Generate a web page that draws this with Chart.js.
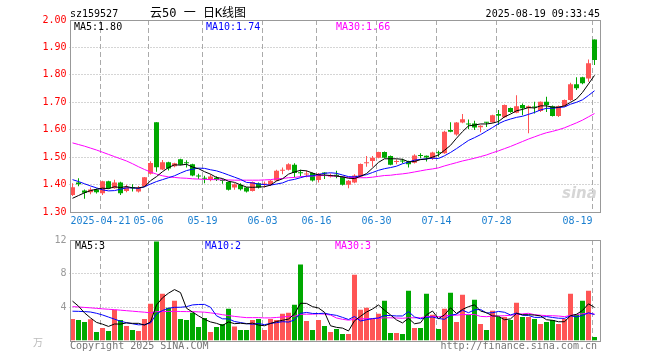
<!DOCTYPE html>
<html>
<head>
<meta charset="utf-8">
<title>sz159527 日K线图</title>
<script src="https://cdn.jsdelivr.net/npm/chart.js@4.4.1/dist/chart.umd.min.js"></script>
<style>
  body { margin: 0; background: #fff; }
  #wrap { position: relative; width: 660px; height: 360px; overflow: hidden;
          font-family: 'DejaVu Sans Mono', monospace; font-size: 10px; color: #000; }
  canvas { position: absolute; left: 0; }
  .t { position: absolute; white-space: pre; line-height: 12px; }
</style>
</head>
<body>
<div id="wrap">
  <canvas id="priceChart" width="660" height="236" style="top:0"></canvas>
  <canvas id="volChart" width="660" height="134" style="top:226px"></canvas>

  <div class="t" style="left:70px;top:8px">sz159527</div>
  <div class="t" style="left:150px;top:5px;font-size:12px;line-height:16px;font-family:'DejaVu Sans Mono','Noto Sans CJK SC',monospace">云50 一 日K线图</div>
  <div class="t" style="right:60px;top:8px">2025-08-19 09:33:45</div>

  <div class="t" style="left:74px;top:21px">MA5:1.80</div>
  <div class="t" style="left:206px;top:21px;color:#0000ff">MA10:1.74</div>
  <div class="t" style="left:336px;top:21px;color:#ff00ff">MA30:1.66</div>

  <div class="t" style="left:562px;top:184px;font:italic bold 15px 'DejaVu Sans',sans-serif;color:#d6d6d6">sina</div>

  <div class="t" style="left:75px;top:240px">MA5:3</div>
  <div class="t" style="left:205px;top:240px;color:#0000ff">MA10:2</div>
  <div class="t" style="left:335px;top:240px;color:#ff00ff">MA30:3</div>

  <div class="t" style="left:33px;top:336px;color:#bbbbbb;font-family:'Noto Sans CJK SC',sans-serif">万</div>
  <div class="t" style="left:70px;top:340px;color:#777777">Copyright 2025 SINA.COM</div>
  <div class="t" style="right:63px;top:340px;color:#777777">http://finance.sina.com.cn</div>
</div>

<script>
// trading days shown on the chart
const dates = [
  '2025-04-14','2025-04-15','2025-04-16','2025-04-17','2025-04-18','2025-04-21','2025-04-22','2025-04-23','2025-04-24','2025-04-25',
  '2025-04-28','2025-04-29','2025-04-30','2025-05-06','2025-05-07','2025-05-08','2025-05-09','2025-05-12','2025-05-13','2025-05-14',
  '2025-05-15','2025-05-16','2025-05-19','2025-05-20','2025-05-21','2025-05-22','2025-05-23','2025-05-26','2025-05-27','2025-05-28',
  '2025-05-29','2025-05-30','2025-06-03','2025-06-04','2025-06-05','2025-06-06','2025-06-09','2025-06-10','2025-06-11','2025-06-12',
  '2025-06-13','2025-06-16','2025-06-17','2025-06-18','2025-06-19','2025-06-20','2025-06-23','2025-06-24','2025-06-25','2025-06-26',
  '2025-06-27','2025-06-30','2025-07-01','2025-07-02','2025-07-03','2025-07-04','2025-07-07','2025-07-08','2025-07-09','2025-07-10',
  '2025-07-11','2025-07-14','2025-07-15','2025-07-16','2025-07-17','2025-07-18','2025-07-21','2025-07-22','2025-07-23','2025-07-24',
  '2025-07-25','2025-07-28','2025-07-29','2025-07-30','2025-07-31','2025-08-01','2025-08-04','2025-08-05','2025-08-06','2025-08-07',
  '2025-08-08','2025-08-11','2025-08-12','2025-08-13','2025-08-14','2025-08-15','2025-08-18','2025-08-19'
];

const open = [
  1.362,1.408,1.378,1.372,1.382,1.368,1.412,1.387,1.408,1.377,
  1.390,1.375,1.394,1.439,1.627,1.455,1.481,1.467,1.492,1.480,
  1.474,1.431,1.423,1.417,1.425,1.415,1.409,1.389,1.399,1.389,
  1.377,1.405,1.400,1.399,1.415,1.450,1.454,1.472,1.443,1.437,
  1.442,1.417,1.442,1.429,1.436,1.429,1.399,1.408,1.429,1.478,
  1.486,1.498,1.519,1.504,1.482,1.486,1.484,1.480,1.507,1.505,
  1.496,1.516,1.514,1.599,1.583,1.626,1.621,1.623,1.609,1.626,
  1.627,1.657,1.645,1.679,1.662,1.690,1.678,1.683,1.668,1.702,
  1.686,1.650,1.686,1.708,1.766,1.791,1.787,1.929
];
const high = [
  1.405,1.423,1.382,1.389,1.386,1.414,1.414,1.418,1.410,1.399,
  1.401,1.395,1.428,1.485,1.627,1.490,1.483,1.480,1.494,1.489,
  1.476,1.439,1.432,1.437,1.430,1.420,1.411,1.405,1.405,1.391,
  1.411,1.408,1.411,1.417,1.454,1.462,1.478,1.478,1.454,1.451,
  1.444,1.442,1.445,1.440,1.450,1.431,1.417,1.438,1.477,1.504,
  1.504,1.520,1.521,1.506,1.492,1.494,1.487,1.511,1.514,1.506,
  1.520,1.523,1.596,1.627,1.628,1.657,1.637,1.633,1.616,1.628,
  1.655,1.672,1.692,1.681,1.726,1.696,1.688,1.702,1.703,1.720,
  1.688,1.688,1.710,1.771,1.791,1.793,1.856,1.929
];
const low = [
  1.358,1.394,1.348,1.365,1.367,1.362,1.385,1.385,1.362,1.372,
  1.375,1.371,1.392,1.437,1.447,1.453,1.451,1.463,1.470,1.462,
  1.430,1.420,1.405,1.412,1.413,1.403,1.378,1.381,1.378,1.371,
  1.375,1.386,1.389,1.395,1.413,1.438,1.451,1.426,1.429,1.427,
  1.411,1.408,1.420,1.426,1.423,1.397,1.387,1.405,1.427,1.465,
  1.465,1.496,1.496,1.470,1.474,1.478,1.462,1.477,1.496,1.484,
  1.490,1.501,1.512,1.591,1.578,1.624,1.603,1.599,1.591,1.610,
  1.625,1.617,1.643,1.662,1.660,1.653,1.587,1.659,1.665,1.665,
  1.648,1.646,1.684,1.705,1.745,1.766,1.775,1.836
];
const close = [
  1.390,1.401,1.370,1.382,1.372,1.412,1.387,1.408,1.368,1.390,
  1.387,1.387,1.427,1.479,1.463,1.481,1.459,1.478,1.472,1.478,
  1.433,1.429,1.421,1.429,1.417,1.413,1.381,1.401,1.383,1.375,
  1.409,1.389,1.402,1.414,1.450,1.452,1.474,1.442,1.441,1.440,
  1.415,1.439,1.440,1.434,1.430,1.399,1.414,1.433,1.475,1.481,
  1.498,1.519,1.498,1.472,1.485,1.484,1.474,1.506,1.504,1.499,
  1.517,1.514,1.593,1.593,1.626,1.638,1.619,1.608,1.614,1.625,
  1.653,1.651,1.690,1.665,1.686,1.678,1.686,1.681,1.702,1.690,
  1.650,1.686,1.708,1.766,1.751,1.769,1.842,1.854
];

// price moving averages
const ma5 = [
  1.350,1.360,1.370,1.378,1.383,1.387,1.385,1.392,1.389,1.393,
  1.388,1.388,1.392,1.414,1.429,1.447,1.462,1.472,1.471,1.474,
  1.464,1.458,1.447,1.438,1.426,1.422,1.412,1.408,1.399,1.391,
  1.390,1.391,1.392,1.398,1.413,1.421,1.438,1.446,1.452,1.450,
  1.442,1.435,1.435,1.433,1.431,1.428,1.423,1.422,1.430,1.440,
  1.460,1.481,1.494,1.494,1.494,1.492,1.483,1.484,1.491,1.493,
  1.500,1.508,1.525,1.543,1.569,1.593,1.614,1.617,1.621,1.621,
  1.624,1.630,1.647,1.657,1.669,1.674,1.681,1.679,1.687,1.687,
  1.682,1.682,1.687,1.700,1.712,1.736,1.767,1.798
];
const ma10 = [
  1.418,1.411,1.403,1.395,1.388,1.381,1.377,1.378,1.383,1.388,
  1.388,1.386,1.392,1.402,1.411,1.418,1.425,1.432,1.442,1.451,
  1.456,1.460,1.459,1.454,1.450,1.443,1.435,1.427,1.419,1.408,
  1.406,1.402,1.400,1.398,1.402,1.406,1.415,1.419,1.425,1.431,
  1.432,1.437,1.441,1.443,1.441,1.435,1.429,1.428,1.432,1.436,
  1.444,1.452,1.458,1.462,1.467,1.476,1.482,1.489,1.492,1.494,
  1.496,1.495,1.505,1.517,1.531,1.546,1.561,1.571,1.582,1.595,
  1.608,1.622,1.632,1.639,1.645,1.649,1.656,1.663,1.672,1.678,
  1.678,1.681,1.683,1.693,1.700,1.709,1.725,1.742
];
const ma30 = [
  1.552,1.546,1.540,1.533,1.526,1.518,1.510,1.502,1.494,1.486,
  1.476,1.465,1.455,1.446,1.438,1.432,1.428,1.426,1.424,1.423,
  1.421,1.420,1.419,1.418,1.418,1.417,1.417,1.416,1.416,1.416,
  1.416,1.416,1.417,1.418,1.421,1.422,1.425,1.426,1.429,1.430,
  1.431,1.433,1.433,1.432,1.431,1.428,1.426,1.425,1.425,1.425,
  1.427,1.430,1.433,1.434,1.437,1.439,1.442,1.446,1.450,1.454,
  1.457,1.461,1.468,1.474,1.480,1.486,1.491,1.496,1.502,1.508,
  1.516,1.523,1.531,1.539,1.548,1.557,1.566,1.574,1.582,1.589,
  1.594,1.600,1.607,1.616,1.625,1.635,1.647,1.659
];

// volume (万) and its moving averages
const volume = [
  2.58,2.46,2.22,2.54,1.02,1.50,1.14,3.66,2.46,1.74,
  1.26,1.14,2.58,4.38,11.82,5.58,3.90,4.74,2.58,2.46,
  3.30,1.62,2.70,1.02,1.62,1.98,3.78,1.66,1.26,1.26,
  2.46,2.58,1.26,2.58,2.46,3.18,3.30,4.26,9.06,2.34,
  1.26,2.46,1.74,1.02,1.38,0.78,0.78,7.86,3.66,3.90,
  2.58,3.20,4.74,0.90,0.90,0.78,5.94,1.50,1.50,5.58,
  3.06,1.38,3.78,5.70,2.22,5.46,3.06,4.86,1.98,1.26,
  3.54,2.82,2.82,2.46,4.50,2.82,2.82,2.58,1.98,2.22,
  2.46,1.98,2.58,5.58,3.06,4.74,5.94,0.42
];
const volMa5 = [
  4.70,4.10,3.30,2.70,2.16,1.95,1.68,1.97,1.96,2.10,
  2.05,2.05,1.84,2.22,4.24,5.10,5.65,6.08,5.72,3.85,
  3.40,2.94,2.53,2.22,2.05,1.79,2.22,2.01,2.06,1.99,
  2.08,1.84,1.76,2.03,2.27,2.41,2.56,3.16,4.45,4.43,
  4.04,3.88,3.37,1.76,1.57,1.48,1.14,2.36,2.89,3.40,
  3.76,4.24,3.62,3.06,2.46,2.10,2.65,2.00,2.12,3.06,
  3.52,2.60,3.06,3.90,3.23,3.71,4.04,4.26,3.52,3.32,
  2.94,2.89,2.48,2.58,3.23,3.08,3.08,3.04,2.94,2.48,
  2.41,2.24,2.24,2.96,3.13,3.59,4.38,3.95
];
const volMa10 = [
  3.50,3.48,3.45,3.40,3.25,3.05,2.80,2.55,2.30,2.13,
  2.00,1.87,1.90,2.09,3.17,3.58,3.85,3.96,3.97,4.04,
  4.25,4.30,4.31,3.97,2.95,2.59,2.58,2.27,2.14,2.02,
  1.94,2.03,1.89,2.04,2.13,2.25,2.20,2.46,3.24,3.35,
  3.23,3.22,3.26,3.11,3.00,2.76,2.51,2.87,2.33,2.48,
  2.62,2.69,2.99,2.98,2.93,2.93,3.45,2.81,2.59,2.76,
  2.81,2.63,2.53,3.01,3.14,3.61,3.32,3.66,3.71,3.28,
  3.32,3.47,3.37,3.05,3.28,3.01,2.99,2.76,2.76,2.86,
  2.75,2.66,2.64,2.95,2.81,3.00,3.31,3.10
];
const volMa30 = [
  4.05,4.00,3.95,3.90,3.84,3.78,3.73,3.68,3.62,3.56,
  3.50,3.44,3.38,3.30,3.45,3.46,3.47,3.48,3.46,3.45,
  3.45,3.42,3.38,3.30,3.20,3.08,2.98,2.88,2.80,2.73,
  2.73,2.73,2.70,2.70,2.75,2.81,2.88,2.90,3.12,3.14,
  3.14,3.18,3.15,3.04,2.69,2.53,2.43,2.53,2.57,2.62,
  2.59,2.65,2.71,2.71,2.69,2.65,2.72,2.71,2.72,2.86,
  2.88,2.84,2.93,3.03,3.02,3.10,3.09,3.11,2.88,2.84,
  2.92,2.93,2.96,3.01,3.12,3.18,3.25,3.08,3.02,2.96,
  2.96,2.92,2.85,3.00,3.08,3.21,3.21,3.17
];

// axis ticks
const tickDates = ['2025-04-21','2025-05-06','2025-05-19','2025-06-03','2025-06-16','2025-06-30','2025-07-14','2025-07-28','2025-08-19'];
const tickLabels = ['2025-04-21','05-06','05-19','06-03','06-16','06-30','07-14','07-28','08-19'];
const priceTicks = [1.3, 1.4, 1.5, 1.6, 1.7, 1.8, 1.9, 2.0];
const volTicks = [0, 4, 8, 12];

const UP = '#ff5555';
const DOWN = '#00a800';
const GRID = '#aaaaaa';
const FRAME = '#999999';
const gridShift = 1 / 3; // sina draws the date lines a bit left of the candle

Chart.defaults.font.family = "'DejaVu Sans Mono', monospace";
Chart.defaults.font.size = 10;

const candleColor = close.map((c, i) => c >= open[i] ? UP : DOWN);
const xTickValues = [-0.5].concat(tickDates.map(d => dates.indexOf(d) - gridShift));

// dashed date lines, dotted value lines and the grey box
const panelGrid = {
    id: 'panelGrid',
    beforeDatasetsDraw(chart) {
        const { ctx, chartArea: a, scales: { x, y } } = chart;
        ctx.save();
        ctx.strokeStyle = GRID;
        ctx.lineWidth = 1;
        ctx.setLineDash([5, 3]);
        x.ticks.forEach((t, i) => {
            if (i === 0) return;
            const px = Math.floor(x.getPixelForValue(t.value)) + 0.5;
            ctx.beginPath();
            ctx.moveTo(px, a.top);
            ctx.lineTo(px, a.bottom);
            ctx.stroke();
        });
        ctx.setLineDash([1, 2]);
        y.ticks.forEach(t => {
            if (t.value <= y.min || t.value >= y.max) return;
            const py = Math.floor(y.getPixelForValue(t.value)) + 0.5;
            ctx.beginPath();
            ctx.moveTo(a.left, py);
            ctx.lineTo(a.right, py);
            ctx.stroke();
        });
        ctx.restore();
    },
    afterDatasetsDraw(chart) {
        const { ctx, chartArea: a } = chart;
        ctx.save();
        ctx.strokeStyle = FRAME;
        ctx.lineWidth = 1;
        ctx.strokeRect(Math.round(a.left) + 0.5, Math.round(a.top) + 0.5,
            Math.round(a.right - a.left) - 1, Math.round(a.bottom - a.top));
        ctx.restore();
    }
};

function xAxis(withLabels) {
    return {
        type: 'linear',
        min: -0.5,
        max: dates.length,
        offset: false,
        afterBuildTicks: scale => { scale.ticks = xTickValues.map(v => ({ value: v })); },
        afterFit: scale => {
            scale.paddingLeft = 0;
            scale.paddingRight = 0;
            scale.height = withLabels ? 24 : 0;
        },
        grid: { display: false, drawTicks: false },
        border: { display: false },
        ticks: {
            display: withLabels,
            autoSkip: false,
            maxRotation: 0,
            align: 'inner',
            padding: 3,
            color: '#1a7fd0',
            callback: (v, i) => i === 0 ? '' : tickLabels[i - 1]
        }
    };
}

function yAxis(min, max, tickValues, color, format) {
    return {
        min: min,
        max: max,
        afterBuildTicks: scale => { scale.ticks = tickValues.map(v => ({ value: v })); },
        afterFit: scale => { scale.width = 69.5; scale.paddingTop = 0; scale.paddingBottom = 0; },
        grid: { display: false, drawTicks: false },
        border: { display: false },
        ticks: { color: color, padding: 3, callback: format }
    };
}

function maLine(values, color) {
    return {
        type: 'line',
        data: values.map((v, i) => ({ x: i, y: v })),
        borderColor: color,
        borderWidth: 1,
        pointRadius: 0,
        tension: 0,
        order: 0
    };
}

const baseOptions = {
    responsive: false,
    animation: false,
    events: [],
    plugins: { legend: { display: false }, tooltip: { enabled: false } }
};

new Chart(document.getElementById('priceChart'), {
    type: 'bar',
    data: {
        datasets: [{
            data: dates.map((d, i) => ({ x: i, y: [low[i], high[i]] })),
            backgroundColor: candleColor,
            barThickness: 1,
            grouped: false,
            inflateAmount: 0,
            order: 2
        }, {
            data: dates.map((d, i) => ({ x: i, y: [open[i], close[i]] })),
            backgroundColor: candleColor,
            barThickness: 5,
            minBarLength: 1,
            grouped: false,
            inflateAmount: 0,
            order: 1
        },
            maLine(ma5, '#000000'),
            maLine(ma10, '#0000ff'),
            maLine(ma30, '#ff00ff')
        ]
    },
    options: {
        ...baseOptions,
        layout: { padding: { top: 20, right: 59.5, left: 0, bottom: 0 } },
        scales: {
            x: xAxis(true),
            y: yAxis(1.3, 2.0, priceTicks, '#ff0000', v => v.toFixed(2))
        }
    },
    plugins: [panelGrid]
});

new Chart(document.getElementById('volChart'), {
    type: 'bar',
    data: {
        datasets: [{
            data: volume.map((v, i) => ({ x: i, y: v })),
            backgroundColor: candleColor,
            barThickness: 5,
            grouped: false,
            inflateAmount: 0,
            order: 1
        },
            maLine(volMa5, '#000000'),
            maLine(volMa10, '#0000ff'),
            maLine(volMa30, '#ff00ff')
        ]
    },
    options: {
        ...baseOptions,
        layout: { padding: { top: 14, right: 59.5, left: 0, bottom: 19.5 } },
        scales: {
            x: xAxis(false),
            y: yAxis(0, 12, volTicks, '#999999', v => v === 0 ? '' : v)
        }
    },
    plugins: [panelGrid]
});
</script>
</body>
</html>
